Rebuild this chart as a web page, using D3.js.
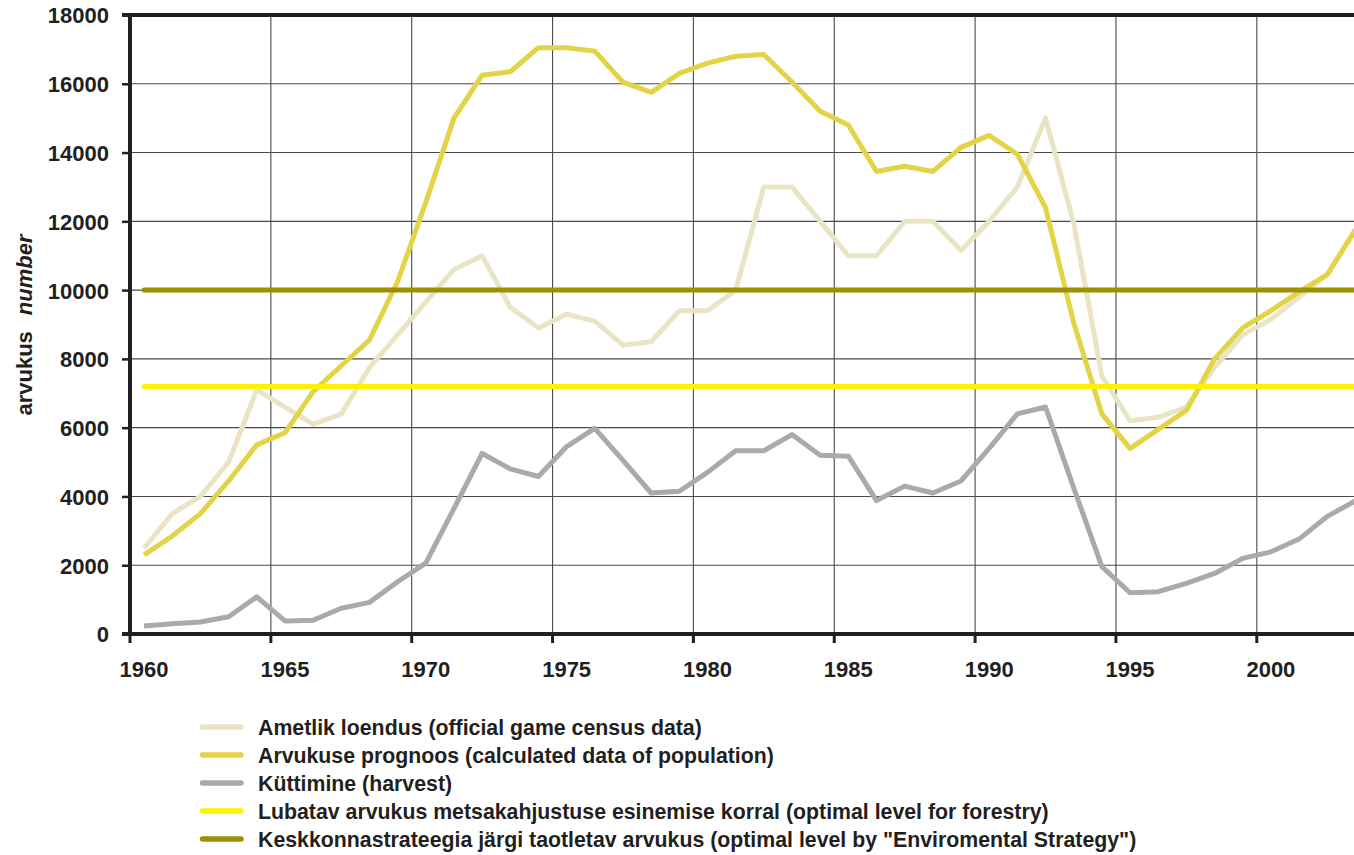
<!DOCTYPE html>
<html>
<head>
<meta charset="utf-8">
<script src="https://cdn.jsdelivr.net/npm/d3@7"></script>
<style>
  html, body { margin: 0; padding: 0; background: #fff; }
  svg { display: block; }
</style>
</head>
<body>
<svg id="chart" width="1354" height="855"></svg>
<script>
// Moose population in Estonia, 1960–2003
const years = [1960,1961,1962,1963,1964,1965,1966,1967,1968,1969,
               1970,1971,1972,1973,1974,1975,1976,1977,1978,1979,
               1980,1981,1982,1983,1984,1985,1986,1987,1988,1989,
               1990,1991,1992,1993,1994,1995,1996,1997,1998,1999,
               2000,2001,2002,2003];

const census = [2500,3500,4000,5000,7100,6600,6100,6400,7750,8700,
                9650,10600,11000,9500,8900,9300,9100,8400,8500,9400,
                9400,10000,13000,13000,12000,11000,11000,12000,12000,11150,
                12000,13000,15000,11950,7500,6200,6300,6600,7750,8700,
                9150,9800,10450,11750];

const prognosis = [2300,2850,3500,4450,5500,5850,7050,7800,8550,10250,
                   12550,15000,16250,16350,17050,17050,16950,16050,15750,16300,
                   16600,16800,16850,16050,15200,14800,13450,13600,13450,14150,
                   14500,13950,12400,9050,6400,5400,5950,6500,8000,8900,
                   9400,9950,10450,11750];

const harvest = [230,300,350,500,1080,380,400,750,920,1520,
                 2060,3650,5250,4800,4580,5450,5980,5050,4100,4150,
                 4700,5330,5330,5800,5200,5170,3880,4300,4100,4450,
                 5400,6400,6600,4250,1960,1200,1230,1470,1760,2200,
                 2390,2760,3420,3870];

const forestryLevel = 7200;
const strategyLevel = 10000;

const yTicks = [0,2000,4000,6000,8000,10000,12000,14000,16000,18000];
const xTickLabels = [1960,1965,1970,1975,1980,1985,1990,1995,2000];

const legendLabels = [
  "Ametlik loendus (official game census data)",
  "Arvukuse prognoos (calculated data of population)",
  "Küttimine (harvest)",
  "Lubatav arvukus metsakahjustuse esinemise korral (optimal level for forestry)",
  "Keskkonnastrateegia järgi taotletav arvukus (optimal level by \"Enviromental Strategy\")"
];

const colors = {
  census: "#e9e5c4",
  prognosis: "#e3d447",
  harvest: "#a9aaae",
  forestry: "#fff200",
  strategy: "#9d9000",
  ink: "#231f20",
  grid: "#4a4a4a"
};

const W = 1354, H = 855;
const plotLeft = 130, plotTop = 15, plotBottom = 634;

const svg = d3.select("#chart");

// one category per year; values sit in the middle of each year slot
const x = d3.scaleLinear().domain([1960, 1965]).range([plotLeft, 270.85]);
const xc = yr => x(yr + 0.5);
const y = d3.scaleLinear().domain([0, 18000]).range([plotBottom, plotTop]);

const plot = svg.append("g");

// horizontal grid
plot.append("g")
  .selectAll("line")
  .data(yTicks.filter(v => v > 0 && v < 18000))
  .join("line")
  .attr("x1", plotLeft).attr("x2", W)
  .attr("y1", d => y(d)).attr("y2", d => y(d))
  .attr("stroke", colors.grid).attr("stroke-width", 1.1);

// vertical grid at the 5-year boundaries
plot.append("g")
  .selectAll("line")
  .data(xTickLabels.filter(v => v > 1960))
  .join("line")
  .attr("x1", d => x(d)).attr("x2", d => x(d))
  .attr("y1", plotTop).attr("y2", plotBottom)
  .attr("stroke", colors.grid).attr("stroke-width", 1.1);

const line = d3.line()
  .x((d, i) => xc(years[i]))
  .y(d => y(d));

function series(values, color) {
  plot.append("path")
    .datum(values)
    .attr("d", line)
    .attr("fill", "none")
    .attr("stroke", color)
    .attr("stroke-width", 5)
    .attr("stroke-linejoin", "round")
    .attr("stroke-linecap", "butt");
}

series(census, colors.census);
series(prognosis, colors.prognosis);
series(harvest, colors.harvest);

// target levels
function level(value, color) {
  plot.append("line")
    .attr("x1", xc(years[0])).attr("x2", W + 10)
    .attr("y1", y(value)).attr("y2", y(value))
    .attr("stroke", color)
    .attr("stroke-width", 5)
    .attr("stroke-linecap", "round");
}
level(forestryLevel, colors.forestry);
level(strategyLevel, colors.strategy);

// frame: left axis, bottom axis, top border
const yAxis = d3.axisLeft(y).tickValues(yTicks).tickSize(8).tickFormat(d3.format("d"));
const gy = svg.append("g").attr("transform", `translate(${plotLeft},0)`).call(yAxis);
gy.select(".domain").remove();
gy.selectAll(".tick line").attr("stroke", colors.ink).attr("stroke-width", 2.5);
gy.selectAll(".tick text")
  .attr("x", -21)
  .attr("dy", "0.36em")
  .attr("fill", colors.ink)
  .style("font-family", "'Liberation Sans', Arial, sans-serif")
  .style("font-weight", "bold")
  .style("font-size", "22px");

svg.append("line")
  .attr("x1", plotLeft).attr("x2", plotLeft).attr("y1", plotTop - 2).attr("y2", plotBottom + 2)
  .attr("stroke", colors.ink).attr("stroke-width", 4);
svg.append("line")
  .attr("x1", plotLeft - 8).attr("x2", W).attr("y1", plotBottom).attr("y2", plotBottom)
  .attr("stroke", colors.ink).attr("stroke-width", 4);
svg.append("line")
  .attr("x1", plotLeft - 8).attr("x2", W).attr("y1", plotTop).attr("y2", plotTop)
  .attr("stroke", colors.ink).attr("stroke-width", 4);

// x ticks at boundaries, labels centred on the year
svg.append("g")
  .selectAll("line")
  .data(xTickLabels)
  .join("line")
  .attr("x1", d => x(d)).attr("x2", d => x(d))
  .attr("y1", plotBottom).attr("y2", plotBottom + 9)
  .attr("stroke", colors.ink).attr("stroke-width", 3);

svg.append("g")
  .selectAll("text")
  .data(xTickLabels)
  .join("text")
  .attr("x", d => xc(d))
  .attr("y", 677)
  .attr("text-anchor", "middle")
  .attr("fill", colors.ink)
  .style("font-family", "'Liberation Sans', Arial, sans-serif")
  .style("font-weight", "bold")
  .style("font-size", "22px")
  .text(d => d);

// y axis title
const title = svg.append("text")
  .attr("transform", "translate(32,325) rotate(-90)")
  .attr("text-anchor", "middle")
  .attr("fill", colors.ink)
  .style("font-family", "'Liberation Sans', Arial, sans-serif")
  .style("font-weight", "bold")
  .style("font-size", "22px");
title.append("tspan").text("arvukus");
title.append("tspan").attr("dx", 16).style("font-style", "italic").text("number");

// legend
const legendColors = [colors.census, colors.prognosis, colors.harvest, colors.forestry, colors.strategy];
const legend = svg.append("g");
const rows = legend.selectAll("g")
  .data(legendLabels)
  .join("g")
  .attr("transform", (d, i) => `translate(0,${727 + i * 28})`);
rows.append("line")
  .attr("x1", 202.5).attr("x2", 241)
  .attr("stroke", (d, i) => legendColors[i])
  .attr("stroke-width", 5.5)
  .attr("stroke-linecap", "round");
rows.append("text")
  .attr("x", 258)
  .attr("y", 7.6)
  .attr("fill", colors.ink)
  .style("font-family", "'Liberation Sans', Arial, sans-serif")
  .style("font-weight", "bold")
  .style("font-size", "21.3px")
  .text(d => d);
</script>
</body>
</html>
